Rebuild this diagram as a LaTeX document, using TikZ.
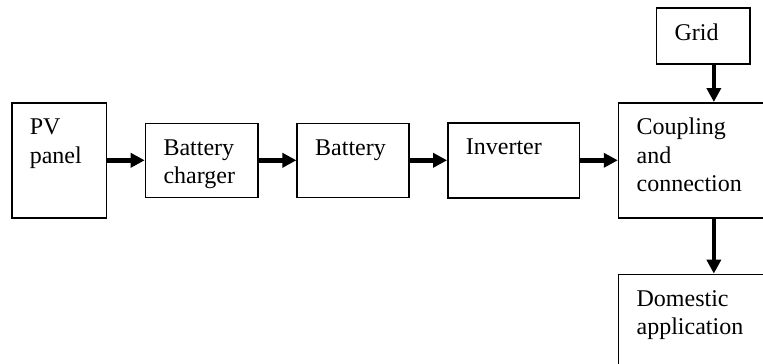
\documentclass[tikz,border=0pt]{standalone}
\usepackage{fontspec}
\setmainfont{Liberation Serif}
\usetikzlibrary{arrows.meta, positioning}

\begin{document}
\begin{tikzpicture}[
    x=1pt, y=1pt,
    node distance=37.6pt,
    box/.style={rectangle, draw, line width=1.6pt, inner xsep=18pt, inner ysep=0pt, align=left, text height=32pt, font=\fontsize{24}{28.5}\selectfont},
    arrow/.style={-{Triangle[length=14pt, width=14pt]}, line width=4.5pt}
]
\clip (0,0) rectangle (763,-364);

\node[box, anchor=north west, text width=58.5pt, text depth=83pt] (pv) at (11,-102) {PV\\panel};
\node[box, text width=76.5pt, text depth=42pt, right=of pv] (charger) {Battery\\charger};
\node[box, text width=75.5pt, text depth=42pt, right=of charger] (battery) {Battery};
\node[box, text width=95.5pt, text depth=43pt, right=of battery] (inverter) {Inverter};
\node[box, text width=154.5pt, text depth=83pt, right=of inverter] (coupling) {Coupling\\and\\connection};
\node[box, text width=57.5pt, text depth=24pt, above=37pt of coupling, xshift=-10.5pt] (grid) {Grid};
\node[box, text width=154.5pt, text depth=83pt, below=55pt of coupling] (domestic) {Domestic\\application};

\draw[arrow] (pv) -- (charger);
\draw[arrow] (charger) -- (battery);
\draw[arrow] (battery) -- (inverter);
\draw[arrow] (inverter) -- (coupling);
\draw[arrow] (grid.south -| coupling.north) -- (coupling.north);
\draw[arrow] (coupling) -- (domestic);

\end{tikzpicture}
\end{document}
